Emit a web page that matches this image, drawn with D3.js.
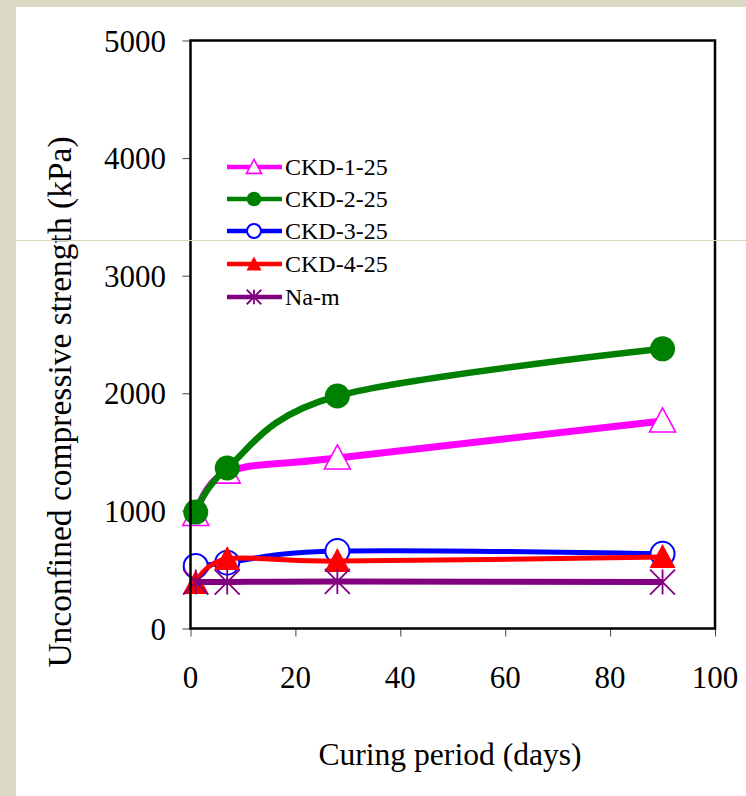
<!DOCTYPE html>
<html>
<head>
<meta charset="utf-8">
<script src="https://cdn.jsdelivr.net/npm/d3@7"></script>
<style>
  body { margin: 0; background: #fff; }
  text { font-family: "Liberation Serif", "Times New Roman", serif; fill: #000; }
</style>
</head>
<body>
<script>

const days = [1, 7, 28, 90];
const ckd1 = [970, 1330, 1450, 1765];
const ckd2 = [990, 1365, 1977, 2378];
const ckd3 = [532, 560, 658, 635];
const ckd4 = [387, 591, 573, 608];
const naM = [395, 395, 400, 395];

const seriesNames = ["CKD-1-25", "CKD-2-25", "CKD-3-25", "CKD-4-25", "Na-m"];
const xTicks = [0, 20, 40, 60, 80, 100];
const yTicks = [0, 1000, 2000, 3000, 4000, 5000];

const W = 746;
const H = 796;
const padL = 190.5, padR = 715, padT = 40.5, padB = 628.5;

const svg = d3.select("body")
.append("svg")
.attr("width", W)
.attr("height", H);

// slide background
svg.append("rect").attr("width", W).attr("height", H).attr("fill", "#d9d9c4");
svg.append("rect").attr("x", 16).attr("y", 7).attr("width", W - 16).attr("height", H - 7).attr("fill", "#fff");

const xScale = d3.scaleLinear().domain([0, 100]).range([padL, padR]);
const yScale = d3.scaleLinear().domain([0, 5000]).range([padB, padT]);

const xAxis = d3.axisBottom(xScale).tickValues(xTicks).tickSize(8).tickFormat("");
const yAxis = d3.axisLeft(yScale).tickValues(yTicks).tickSize(8).tickFormat("");

svg.append("g")
.attr("transform", `translate(0,${padB})`)
.call(xAxis)
.call(g => g.select(".domain").remove())
.call(g => g.selectAll("line").attr("stroke", "#444"));

svg.append("g")
.attr("transform", `translate(${padL},0)`)
.call(yAxis)
.call(g => g.select(".domain").remove())
.call(g => g.selectAll("line").attr("stroke", "#444"));

svg.selectAll(".xlab")
.data(xTicks)
.enter()
.append("text")
.attr("class", "xlab")
.attr("x", d => xScale(d))
.attr("y", 688)
.attr("text-anchor", "middle")
.style("font-size", "31px")
.text(d => d);

svg.selectAll(".ylab")
.data(yTicks)
.enter()
.append("text")
.attr("class", "ylab")
.attr("x", 166)
.attr("y", d => yScale(d) + 11)
.attr("text-anchor", "end")
.style("font-size", "31px")
.text(d => d);

svg.append("text")
.text("Curing period (days)")
.attr("x", 450)
.attr("y", 765)
.attr("text-anchor", "middle")
.style("font-size", "31.6px");

svg.append("text")
.text("Unconfined compressive strength (kPa)")
.attr("transform", `translate(71, 402) rotate(-90)`)
.attr("text-anchor", "middle")
.style("font-size", "33.5px");

// markers
function drawMarker(g, kind, big) {
  const k = big ? 1 : 0.58;
  if (kind === 0) {
    g.append("path").attr("d", `M0,${-13*k}L${13*k},${11*k}L${-13*k},${11*k}Z`)
    .attr("fill", "#fff").attr("stroke", "#ff00ff").attr("stroke-width", 1.6);
  } else if (kind === 1) {
    g.append("circle").attr("r", 12.5 * k).attr("fill", "#008000");
  } else if (kind === 2) {
    g.append("circle").attr("r", 12 * k).attr("fill", "#fff").attr("stroke", "#0000ff").attr("stroke-width", 2);
  } else if (kind === 3) {
    g.append("path").attr("d", `M0,${-13*k}L${13*k},${11*k}L${-13*k},${11*k}Z`)
    .attr("fill", "#ff0000");
  } else {
    const r = 12.5 * k;
    g.append("path")
    .attr("d", `M${-r},${-r}L${r},${r}M${-r},${r}L${r},${-r}M0,${-r}L0,${r}`)
    .attr("stroke", "#800080").attr("stroke-width", 1.8).attr("fill", "none");
  }
}

const colors = ["#ff00ff", "#008000", "#0000ff", "#ff0000", "#800080"];
const widths = [7, 6.5, 5, 5, 6];
const allSeries = [ckd1, ckd2, ckd3, ckd4, naM];

const line = d3.line()
.x(d => xScale(d[0]))
.y(d => yScale(d[1]))
.curve(d3.curveCardinal.tension(0));

allSeries.forEach((vals, i) => {
  const pts = days.map((d, j) => [d, vals[j]]);
  svg.append("path")
  .attr("d", line(pts))
  .attr("fill", "none")
  .attr("stroke", colors[i])
  .attr("stroke-width", widths[i])
  .attr("stroke-linejoin", "round");
  pts.forEach(p => {
    const g = svg.append("g").attr("transform", `translate(${xScale(p[0])},${yScale(p[1])})`);
    drawMarker(g, i, true);
  });
});

// frame
svg.append("rect")
.attr("x", padL).attr("y", padT)
.attr("width", padR - padL).attr("height", padB - padT)
.attr("fill", "none").attr("stroke", "#000").attr("stroke-width", 2.5);

// legend
const legend = svg.append("g").attr("id", "legend");
const legY = [167, 199, 231, 264, 297];
seriesNames.forEach((name, i) => {
  legend.append("line")
  .attr("x1", 227).attr("x2", 282)
  .attr("y1", legY[i]).attr("y2", legY[i])
  .attr("stroke", colors[i]).attr("stroke-width", 4.5);
  const g = legend.append("g").attr("transform", `translate(254,${legY[i]})`);
  drawMarker(g, i, false);
  legend.append("text")
  .text(name)
  .attr("x", 285)
  .attr("y", legY[i] + 8)
  .style("font-size", "24px");
});

// faint slide guide line
svg.append("line")
.attr("x1", 16).attr("x2", W)
.attr("y1", 240.5).attr("y2", 240.5)
.attr("stroke", "#d6d6bc").attr("stroke-width", 1);

</script>
</body>
</html>
